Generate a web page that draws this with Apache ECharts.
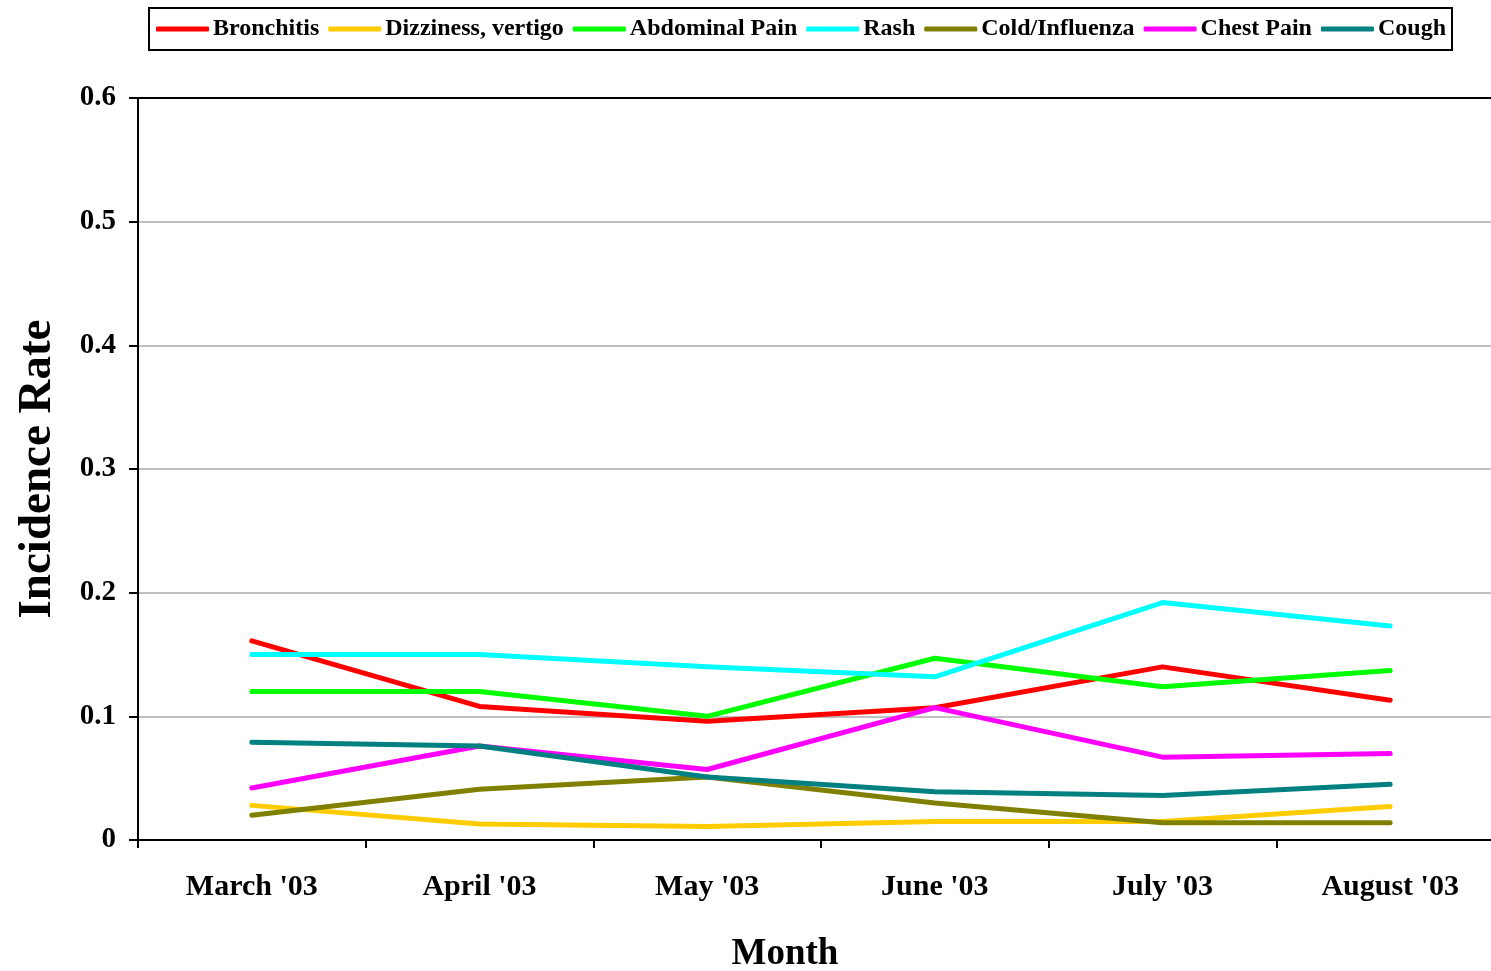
<!DOCTYPE html>
<html>
<head>
<meta charset="utf-8">
<style>
  html, body { margin: 0; padding: 0; background: #fff; }
  #chart { width: 1491px; height: 971px; }
</style>
<script src="https://cdn.jsdelivr.net/npm/echarts@6/dist/echarts.min.js"></script>
</head>
<body>
<div id="chart"></div>
<script>
// Data
const months = ["March '03", "April '03", "May '03", "June '03", "July '03", "August '03"];
const bronchitis = [0.161, 0.108, 0.096, 0.107, 0.140, 0.113];
const dizziness = [0.028, 0.013, 0.011, 0.015, 0.015, 0.027];
const abdominalPain = [0.120, 0.120, 0.100, 0.147, 0.124, 0.137];
const rash = [0.150, 0.150, 0.140, 0.132, 0.192, 0.173];
const coldInfluenza = [0.020, 0.041, 0.051, 0.030, 0.014, 0.014];
const chestPain = [0.042, 0.076, 0.057, 0.107, 0.067, 0.070];
const cough = [0.079, 0.076, 0.051, 0.039, 0.036, 0.045];
const yTicks = [0, 0.1, 0.2, 0.3, 0.4, 0.5, 0.6];

const seriesDefs = [
    { name: 'Bronchitis', data: bronchitis, color: '#ff0000' },
    { name: 'Dizziness, vertigo', data: dizziness, color: '#ffcc00' },
    { name: 'Abdominal Pain', data: abdominalPain, color: '#00ff00' },
    { name: 'Rash', data: rash, color: '#00ffff' },
    { name: 'Cold/Influenza', data: coldInfluenza, color: '#808000' },
    { name: 'Chest Pain', data: chestPain, color: '#ff00ff' },
    { name: 'Cough', data: cough, color: '#008080' }
];

const FONT = '"Liberation Serif", "Times New Roman", serif';

const chart = echarts.init(document.getElementById('chart'));

chart.setOption({
    animation: false,
    backgroundColor: '#fff',
    textStyle: { fontFamily: FONT },
    legend: {
        left: 149,
        top: 8,
        padding: [9, 6, 9, 7],
        itemGap: 9,
        itemWidth: 53,
        itemHeight: 5,
        icon: 'roundRect',
        borderColor: '#000',
        borderWidth: 2,
        textStyle: { fontFamily: FONT, fontWeight: 'bold', fontSize: 24, color: '#000', padding: [0, 0, 0, -1] },
        data: seriesDefs.map(s => s.name)
    },
    grid: {
        left: 138,
        top: 98,
        width: 1366,
        height: 742,
        containLabel: false,
        outerBoundsMode: 'none',
        show: false
    },
    xAxis: {
        type: 'category',
        data: months,
        boundaryGap: true,
        name: 'Month',
        nameLocation: 'middle',
        nameGap: 96,
        nameTextStyle: { fontFamily: FONT, fontWeight: 'bold', fontSize: 37, color: '#000', padding: [0, 72, 0, 0] },
        axisLine: { lineStyle: { color: '#000', width: 2 } },
        axisTick: { show: true, length: 8, lineStyle: { color: '#000', width: 2 } },
        axisLabel: { margin: 32, fontFamily: FONT, fontWeight: 'bold', fontSize: 30, color: '#000' }
    },
    yAxis: {
        type: 'value',
        min: 0,
        max: 0.6,
        interval: 0.1,
        name: 'Incidence Rate',
        nameLocation: 'middle',
        nameGap: 77,
        nameRotate: 90,
        nameTextStyle: { fontFamily: FONT, fontWeight: 'bold', fontSize: 47, color: '#000' },
        axisLine: { show: true, lineStyle: { color: '#000', width: 2 } },
        axisTick: { show: true, length: 9, lineStyle: { color: '#000', width: 2 } },
        axisLabel: {
            margin: 22,
            fontFamily: FONT, fontWeight: 'bold', fontSize: 29, color: '#000',
            formatter: v => yTicks.includes(+v.toFixed(1)) ? (v === 0 ? '0' : v.toFixed(1)) : ''
        },
        splitLine: {
            show: true,
            lineStyle: { color: ['#c0c0c0', '#c0c0c0', '#c0c0c0', '#c0c0c0', '#c0c0c0', '#c0c0c0', '#000'], width: 2 }
        }
    },
    series: seriesDefs.map(s => ({
        name: s.name,
        type: 'line',
        data: s.data,
        symbol: 'none',
        color: s.color,
        lineStyle: { color: s.color, width: 5, cap: 'round', join: 'round' }
    }))
});
</script>
</body>
</html>
